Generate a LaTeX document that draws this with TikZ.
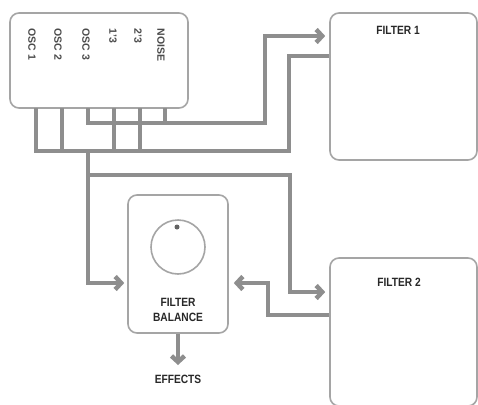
\documentclass[tikz,border=0pt]{standalone}
\usepackage{fontspec}
\setmainfont{Liberation Sans}
\newfontfamily\titlefont[FakeStretch=0.85]{Liberation Sans}
\usetikzlibrary{arrows.meta}
\definecolor{wirec}{RGB}{142,142,142}
\definecolor{framec}{RGB}{165,165,165}
\definecolor{inkc}{RGB}{40,40,40}
\definecolor{labc}{RGB}{75,75,75}
\begin{document}
\begin{tikzpicture}[x=1pt,y=-1pt,
  panel/.style={draw=framec,line width=1.6pt,rounded corners=9pt,fill=white,inner sep=0pt},
  wireline/.style={draw=wirec,line width=4.5pt,line join=miter},
  arr/.style={wireline,-{Straight Barb[length=6pt,width=13pt]},shorten >=4pt},
  title/.style={font=\titlefont\fontsize{12}{15}\selectfont\bfseries,text=inkc,align=center,inner sep=0pt},
  srclab/.style={font=\fontsize{10.5}{12}\selectfont\bfseries,text=labc,rotate=-90,anchor=west,inner sep=0pt}]
\clip (0,0) rectangle (478,404);
\fill[white] (0,0) rectangle (478,404);
% panels
\node[panel,minimum width=178pt,minimum height=95pt] (src) at (99,60.5) {};
\node[panel,minimum width=147pt,minimum height=147pt] (f1) at (403.5,86.5) {};
\node[panel,minimum width=147pt,minimum height=148pt] (f2) at (403.5,332) {};
\node[panel,minimum width=100pt,minimum height=138pt] (bal) at (178,264) {};
% source labels
\node[srclab] (l1) at (32,28.5) {OSC 1};
\node[srclab] (l2) at (58,28.5) {OSC 2};
\node[srclab] (l3) at (86,28.5) {OSC 3};
\node[srclab] (l4) at (113,28.5) {1’3};
\node[srclab] (l5) at (138,28.5) {2’3};
\node[srclab] (l6) at (161,28.5) {NOISE};
% titles
\node[title] (t1) at (398,30.5) {FILTER 1};
\node[title] (t2) at (399,282) {FILTER 2};
\node[title] (bt) at (178,309.5) {FILTER\\BALANCE};
\node[title] (fx) at (178,379) {EFFECTS};
% knob
\node[circle,draw=framec,line width=1.6pt,minimum size=54pt,inner sep=0pt] (knob) at (178,247) {};
\node[circle,fill=wirec!70!black,minimum size=5pt,inner sep=0pt] (dot) at (177,227) {};
% stub coordinates
\coordinate (s1) at (36,108);
\coordinate (s2) at (62,108);
\coordinate (s3) at (88,108);
\coordinate (s4) at (114,108);
\coordinate (s5) at (140,108);
\coordinate (s6) at (165,108);
% lower bus to filter 1
\coordinate (lb0) at (36,151);
\coordinate (lb1) at (289,151);
\coordinate (lb2) at (289,56);
\draw[wireline] (s1) -- (lb0) -- (lb1) -- (lb2) -- (lb2 -| f1.west);
\draw[wireline] (s2) -- (s2 |- lb0);
\draw[wireline] (s4) -- (s4 |- lb0);
\draw[wireline] (s5) -- (s5 |- lb0);
% upper bus to filter 1
\coordinate (ub0) at (88,123);
\coordinate (ub1) at (265,123);
\coordinate (ub2) at (265,36);
\draw[arr] (s3) -- (ub0) -- (ub1) -- (ub2) -- (ub2 -| f1.west);
\draw[wireline] (s6) -- (s6 |- ub0);
% down to balance
\coordinate (d0) at (88,151);
\coordinate (d1) at (88,283);
\draw[arr,shorten >=3pt] (d0) -- (d1) -- (d1 -| bal.west);
% branch to filter 2
\coordinate (br0) at (88,175);
\coordinate (br1) at (290,175);
\coordinate (br2) at (290,292);
\draw[arr] (br0) -- (br1) -- (br2) -- (br2 -| f2.west);
% filter 2 back to balance
\coordinate (r1) at (268,315);
\coordinate (r2) at (268,283);
\draw[arr,shorten >=5pt] (r1 -| f2.west) -- (r1) -- (r2) -- (r2 -| bal.east);
% to effects
\coordinate (e0) at (178,365);
\draw[arr,shorten >=0pt] (bal.south) -- (e0);
\end{tikzpicture}
\end{document}
